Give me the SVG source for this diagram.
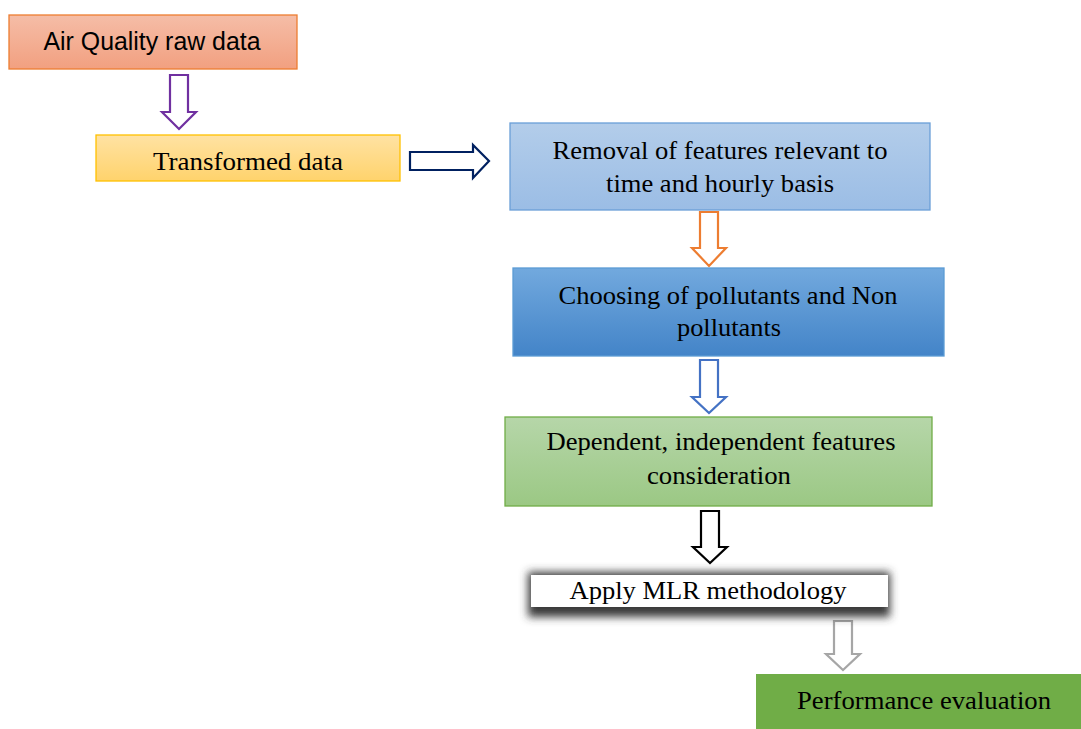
<svg xmlns="http://www.w3.org/2000/svg" width="1081" height="729" viewBox="0 0 1081 729">
<defs>
<linearGradient id="g1" x1="0" y1="0" x2="0" y2="1"><stop offset="0" stop-color="#f5bda7"/><stop offset="1" stop-color="#f2a080"/></linearGradient>
<linearGradient id="g2" x1="0" y1="0" x2="0" y2="1"><stop offset="0" stop-color="#ffe2a3"/><stop offset="1" stop-color="#ffd36c"/></linearGradient>
<linearGradient id="g3" x1="0" y1="0" x2="0" y2="1"><stop offset="0" stop-color="#b3cdea"/><stop offset="1" stop-color="#9bbde5"/></linearGradient>
<linearGradient id="g4" x1="0" y1="0" x2="0" y2="1"><stop offset="0" stop-color="#72a9de"/><stop offset="1" stop-color="#4384c8"/></linearGradient>
<linearGradient id="g5" x1="0" y1="0" x2="0" y2="1"><stop offset="0" stop-color="#b6d6a9"/><stop offset="1" stop-color="#9bc884"/></linearGradient>
<filter id="sh" x="-20%" y="-80%" width="140%" height="260%"><feGaussianBlur stdDeviation="4.5"/></filter>
</defs>
<style>
.box{stroke-width:1.3}
.ser{font-family:"Liberation Serif","Times New Roman",serif;font-size:26px;fill:#000;text-anchor:middle}
.san{font-family:"Liberation Sans",Arial,sans-serif;font-size:25px;fill:#000;text-anchor:middle}
.arr{fill:#fff;stroke-width:2.2;stroke-linejoin:miter}
</style>
<rect width="1081" height="729" fill="#fff"/>
<g id="connectors">
<polygon class="arr" stroke="#7030a0" points="170,75 188,75 188,112 196,112 179,129 162,112 170,112"/>
<polygon class="arr" stroke="#002060" points="410,152 473,152 473,145 489,161 473,178 473,170 410,170"/>
<polygon class="arr" stroke="#ed7d31" points="700,212 718,212 718,248 726,248 709,266 692,248 700,248"/>
<polygon class="arr" stroke="#4472c4" points="700,360 718,360 718,397 726,397 709,413 692,397 700,397"/>
<polygon class="arr" stroke="#000" points="701,511 719,511 719,547 727,547 710,563 693,547 701,547"/>
<polygon class="arr" stroke="#a6a6a6" points="834,621 852,621 852,654 860,654 843,670 826,654 834,654"/>
</g>
<g id="n1">
<rect class="box" x="9" y="15" width="288" height="54" fill="url(#g1)" stroke="#ed7d31"/>
<text class="san" x="152" y="50" textLength="217" lengthAdjust="spacingAndGlyphs">Air Quality raw data</text>
</g>
<g id="n2">
<rect class="box" x="96" y="135" width="304" height="46" fill="url(#g2)" stroke="#ffc000"/>
<text class="ser" x="248" y="170" textLength="190" lengthAdjust="spacingAndGlyphs">Transformed data</text>
</g>
<g id="n3">
<rect class="box" x="510" y="123" width="420" height="87" fill="url(#g3)" stroke="#6a9fd8"/>
<text class="ser" x="720" y="159" textLength="335" lengthAdjust="spacingAndGlyphs">Removal of features relevant to</text>
<text class="ser" x="720" y="192" textLength="228" lengthAdjust="spacingAndGlyphs">time and hourly basis</text>
</g>
<g id="n4">
<rect class="box" x="513" y="268" width="431" height="88" fill="url(#g4)" stroke="#5b9bd5"/>
<text class="ser" x="728" y="304" textLength="339" lengthAdjust="spacingAndGlyphs">Choosing of pollutants and Non</text>
<text class="ser" x="729" y="336" textLength="104" lengthAdjust="spacingAndGlyphs">pollutants</text>
</g>
<g id="n5">
<rect class="box" x="505" y="417" width="427" height="89" fill="url(#g5)" stroke="#70ad47"/>
<text class="ser" x="721" y="450" textLength="349" lengthAdjust="spacingAndGlyphs">Dependent, independent features</text>
<text class="ser" x="719" y="484" textLength="144" lengthAdjust="spacingAndGlyphs">consideration</text>
</g>
<g id="n6">
<rect x="528" y="572" width="362" height="45" fill="#3a3a3a" filter="url(#sh)"/>
<rect x="531" y="575" width="357" height="32" fill="#fff"/>
<text class="ser" x="708" y="599" textLength="277" lengthAdjust="spacingAndGlyphs">Apply MLR methodology</text>
</g>
<g id="n7">
<rect x="756" y="674" width="325" height="55" fill="#70ad47"/>
<text class="ser" x="924" y="709" textLength="254" lengthAdjust="spacingAndGlyphs">Performance evaluation</text>
</g>
</svg>
